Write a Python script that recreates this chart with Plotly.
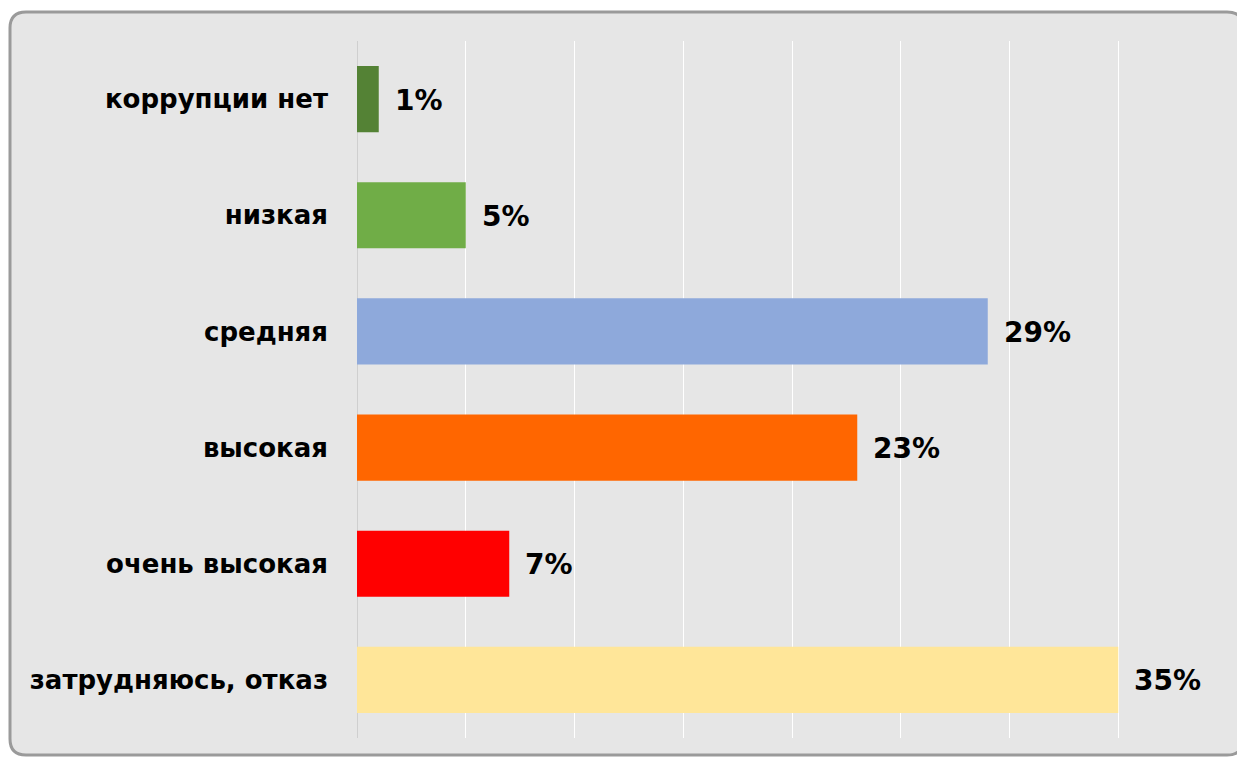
import plotly.graph_objects as go

categories = ["коррупции нет", "низкая", "средняя", "высокая", "очень высокая", "затрудняюсь, отказ"]
values = [1, 5, 29, 23, 7, 35]
labels = ["1%", "5%", "29%", "23%", "7%", "35%"]
colors = ["#548235", "#70AD47", "#8EA9DB", "#FF6600", "#FF0000", "#FFE699"]

OFF = 8  # page body offset
W, H = 1245 - OFF, 760 - OFF
ML, MR, MT = 357 - OFF, 18, 41 - OFF
MB = H - (738 - OFF)
pw = W - ML - MR
ph = H - MT - MB

def px2x(px):
    return (px - OFF - ML) / pw

def py2y(py):
    return (H - MB - (py - OFF)) / ph

fig = go.Figure()
fig.add_trace(go.Bar(
    y=categories, x=values, orientation="h",
    marker=dict(color=colors, line=dict(width=0)),
    hoverinfo="skip",
))

font = dict(family="DejaVu Sans", size=26, color="#000000")
lab_font = dict(family="DejaVu Sans", size=28, color="#000000")

for c, v, t in zip(categories, values, labels):
    fig.add_annotation(x=v, y=c, xref="x", yref="y", text="<b>%s</b>" % t,
                       showarrow=False, xanchor="left", yanchor="middle",
                       xshift=14, yshift=-1, font=lab_font)

# rounded frame
x0, x1 = px2x(10), px2x(1243)
y0, y1 = py2y(755), py2y(12)
rx, ry = 16 / pw, 16 / ph
path = (f"M {x0+rx},{y1} L {x1-rx},{y1} Q {x1},{y1} {x1},{y1-ry} "
        f"L {x1},{y0+ry} Q {x1},{y0} {x1-rx},{y0} L {x0+rx},{y0} "
        f"Q {x0},{y0} {x0},{y0+ry} L {x0},{y1-ry} Q {x0},{y1} {x0+rx},{y1} Z")
fig.add_shape(type="path", path=path, xref="paper", yref="paper",
              fillcolor="#e6e6e6", line=dict(color="#9a9a9a", width=3), layer="below")

fig.update_layout(
    width=W, height=H,
    margin=dict(l=ML, r=MR, t=MT, b=MB, pad=0),
    paper_bgcolor="#ffffff",
    plot_bgcolor="rgba(0,0,0,0)",
    bargap=0.43,
    showlegend=False,
    font=font,
)
fig.update_xaxes(range=[0, 40], dtick=5, showgrid=True, gridcolor="#ffffff", gridwidth=1,
                 showticklabels=False, zeroline=True, zerolinecolor="#cfcfcf", zerolinewidth=1,
                 showline=False, fixedrange=True)
fig.update_yaxes(autorange="reversed", showgrid=False, ticks="", ticklabelstandoff=28,
                 tickfont=dict(family="DejaVu Sans", size=26, color="#000000"),
                 tickprefix="<b>", ticksuffix="</b>", showline=False, fixedrange=True)

fig.write_html("out.html", config={"displayModeBar": False})
